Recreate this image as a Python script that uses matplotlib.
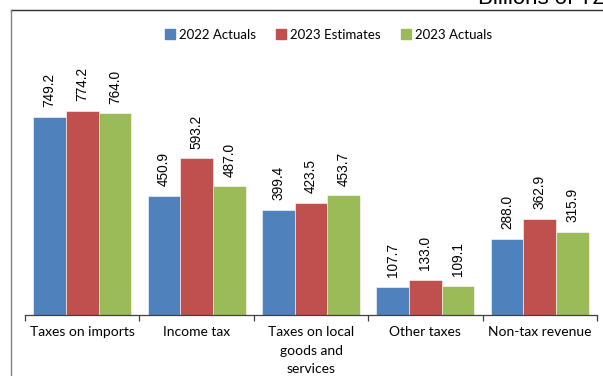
import numpy as np
import matplotlib
matplotlib.use("Agg")
import matplotlib.pyplot as plt
from matplotlib.lines import Line2D

categories = ["Taxes on imports", "Income tax", "Taxes on local\ngoods and\nservices",
              "Other taxes", "Non-tax revenue"]
series_names = ["2022 Actuals", "2023 Estimates", "2023 Actuals"]
actuals_2022 = [749.2, 450.9, 399.4, 107.7, 288.0]
estimates_2023 = [774.2, 593.2, 423.5, 133.0, 362.9]
actuals_2023 = [764.0, 487.0, 453.7, 109.1, 315.9]
unit_label = "Billions of TZS"

colors = ["#4F81BD", "#C0504D", "#9BBB59"]
W, H = 603, 376
fig = plt.figure(figsize=(W / 100, H / 100), dpi=100)
fig.patch.set_facecolor("white")

ax = fig.add_axes([25 / W, 1 - 315 / H, 572 / W, 237.6 / H])
x = np.arange(len(categories))
bw = 0.286
data = [actuals_2022, estimates_2023, actuals_2023]
for i, (vals, col, name) in enumerate(zip(data, colors, series_names)):
    pos = x + (i - 1) * bw
    bars = ax.bar(pos, vals, width=bw, color=col, edgecolor="white",
                  linewidth=0.4, label=name, zorder=2)
    for b, v in zip(bars, vals):
        ax.annotate(f"{v:.1f}", (b.get_x() + b.get_width() / 2, v),
                    xytext=(0, 7), textcoords="offset points",
                    rotation=90, ha="center", va="bottom",
                    fontsize=9.8, family="Liberation Sans", color="black")

ax.set_xlim(-0.5, len(categories) - 0.5)
ax.set_ylim(0, 900)
for s in ["top", "right", "left"]:
    ax.spines[s].set_visible(False)
ax.spines["bottom"].set_color("#404040")
ax.spines["bottom"].set_linewidth(0.9)
ax.set_yticks([])
ax.set_xticks(np.arange(-0.5, len(categories)), minor=False)
ax.set_xticklabels([])
ax.tick_params(axis="x", length=4, width=0.9, color="#404040", direction="out")
for xi, lab in zip(x, categories):
    ax.text(xi, -0.048, lab, transform=ax.get_xaxis_transform(), ha="center",
            va="top", fontsize=10, family="Lato", linespacing=1.62)

handles = [Line2D([], [], marker="s", linestyle="none", markersize=6.5,
                  markerfacecolor=c, markeredgecolor=c) for c in colors]
fig.legend(handles, series_names, loc="center", bbox_to_anchor=(329 / W, 1 - 35 / H),
           ncol=3, frameon=False, handlelength=0.6, handletextpad=0.4,
           columnspacing=1.6, prop={"family": "Lato", "size": 9.5})

# chart frame: top and left edges
fig.add_artist(Line2D([11 / W, 1], [1 - 9.5 / H, 1 - 9.5 / H], color="#303030",
                      linewidth=1.0, transform=fig.transFigure))
fig.add_artist(Line2D([11 / W, 11 / W], [0, 1 - 9.5 / H], color="#808080",
                      linewidth=1.0, transform=fig.transFigure))
fig.text(478 / W, 1 - 4 / H, unit_label, ha="left", va="baseline",
         fontsize=16, family="Liberation Sans")

fig.savefig("out.png", dpi=100)
